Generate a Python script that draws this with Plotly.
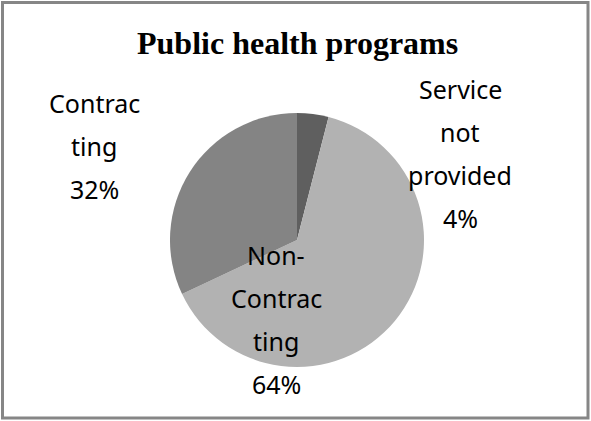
import plotly.graph_objects as go

labels = ["Service not provided", "Non-Contracting", "Contracting"]
values = [4, 64, 32]
colors = ["#5f5f5f", "#b2b2b2", "#848484"]
# wrapped label lines as displayed in the chart
label_lines = [["Service", "not", "provided"], ["Non-", "Contrac", "ting"], ["Contrac", "ting"]]
title = "Public health programs"

W, H = 591, 421
total = sum(values)

fig = go.Figure(go.Pie(
    labels=labels, values=values, sort=False, direction="clockwise", rotation=0,
    marker=dict(colors=colors, line=dict(width=0)),
    textinfo="none", hoverinfo="label+percent", showlegend=False,
    domain=dict(x=[170 / W, 424 / W], y=[1 - 367 / H, 1 - 113 / H]),
))

# label anchor (centre x, first-line y) in pixels
anchors = [(460, 89), (276, 255), (94, 103)]
step = 43
font = dict(family="Noto Sans", size=25, color="#000000")
ann = []
for lines, v, (cx, cy) in zip(label_lines, values, anchors):
    txts = lines + [f"{round(100 * v / total)}%"]
    for i, t in enumerate(txts):
        ann.append(dict(text=t, x=cx / W, y=1 - (cy + i * step) / H, xref="paper", yref="paper",
                        xanchor="center", yanchor="middle", showarrow=False, font=font))
ann.append(dict(text=f"<b>{title}</b>", x=297 / W, y=1 - 43 / H, xref="paper", yref="paper",
                xanchor="center", yanchor="middle", showarrow=False,
                font=dict(family="Liberation Serif", size=32, color="#000000")))

fig.update_layout(
    width=W, height=H, margin=dict(l=0, r=0, t=0, b=0),
    paper_bgcolor="white", plot_bgcolor="white",
    annotations=ann,
    shapes=[dict(type="rect", xref="paper", yref="paper", x0=2.5 / W, x1=1 - 3 / W,
                 y0=3 / H, y1=1 - 2.5 / H, line=dict(color="#868686", width=3))],
)
fig.write_html("out.html")
